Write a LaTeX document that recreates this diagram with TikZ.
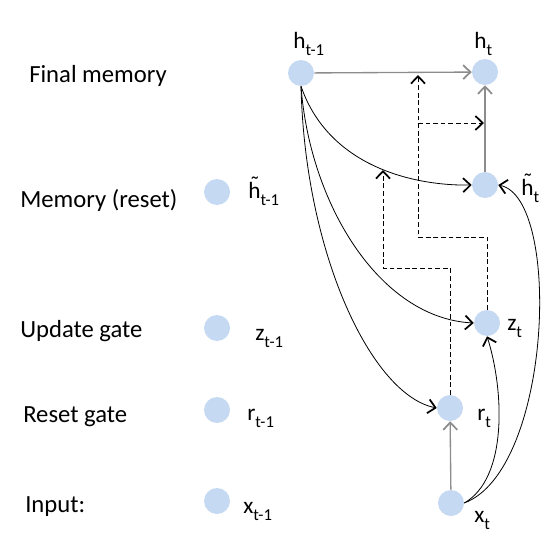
\documentclass[tikz,border=0pt]{standalone}
\usepackage{fontspec}
\setmainfont{Carlito}
\usetikzlibrary{arrows.meta}
\definecolor{nodeblue}{RGB}{197,217,243}
\definecolor{linegray}{RGB}{140,140,140}
\newcommand\mysub[1]{\raisebox{-0.3em}{\fontsize{12.5}{13}\selectfont #1}}
\newcommand\htil{\leavevmode\hbox{\ooalign{h\cr\hidewidth\kern0.05em\raisebox{0.24em}{\char"02DC}\hidewidth\cr}}}
\begin{document}
\begin{tikzpicture}[x=0.75pt,y=-0.75pt,
  unit/.style={circle,fill=nodeblue,minimum size=19.5pt,inner sep=0pt},
  lab/.style={font=\fontsize{18.5}{20}\selectfont,anchor=base west,inner sep=0pt},
  sym/.style={font=\fontsize{17.5}{19}\selectfont,anchor=base west,inner sep=0pt},
  arr/.style={-{Straight Barb[length=5.5pt,width=10.5pt,line width=1.3pt]}},
  straight/.style={arr,draw=linegray,line width=1pt},
  curved/.style={arr,draw=black,line width=0.6pt},
  dashline/.style={arr,draw=black,line width=0.7pt,dash pattern=on 3.5pt off 2.2pt}]
\useasboundingbox (0,0) rectangle (557,560);
% row labels
\node[lab] (l1) at (29,83) {Final memory};
\node[lab] (l2) at (20,207) {Memory (reset)};
\node[lab] (l3) at (20,337) {Update gate};
\node[lab] (l4) at (23,422) {Reset gate};
\node[lab] (l5) at (25,512) {Input:};
% left column
\node[unit] (hh0) at (217,192) {};
\node[unit] (z0) at (217,328) {};
\node[unit] (r0) at (217,410) {};
\node[unit] (x0) at (217,501) {};
\node[sym] (thh0) at (248,198) {\htil\mysub{t-1}};
\node[sym] (tz0) at (255,340) {z\mysub{t-1}};
\node[sym] (tr0) at (247,420) {r\mysub{t-1}};
\node[sym] (tx0) at (243,513) {x\mysub{t-1}};
% right part
\node[unit] (h0) at (301,73) {};
\node[unit] (h1) at (485,72) {};
\node[unit] (hh1) at (485,185) {};
\node[unit] (z1) at (487,323) {};
\node[unit] (r1) at (450,408) {};
\node[unit] (x1) at (451,503) {};
\node[sym] (th0) at (293,49) {h\mysub{t-1}};
\node[sym] (th1) at (474,49) {h\mysub{t}};
\node[sym] (thh1) at (521,195) {\htil\mysub{t}};
\node[sym] (tz1) at (507,330) {z\mysub{t}};
\node[sym] (tr1) at (477,420) {r\mysub{t}};
\node[sym] (tx1) at (474,522) {x\mysub{t}};
% straight connectors
\draw[straight] (h0) -- (h1);
\draw[straight] (hh1) -- (h1);
\draw[straight] (x1) -- (r1);
% curves from h_{t-1}
\draw[curved] (h0.south) .. controls (330,170) and (420,186) .. (hh1.west);
\draw[curved] (h0.south) .. controls (310,205) and (380,318) .. (z1.west);
\draw[curved] (h0.south) .. controls (305,255) and (372,395) .. (r1.west);
% curves from x_t
\draw[curved] (x1.east) .. controls (508,478) and (504,390) .. (z1.south);
\draw[curved] (x1.east) .. controls (552,470) and (562,198) .. (hh1.east);
% dashed gate connectors
\coordinate (dA) at (383,268);
\coordinate (dB) at (383,170);
\coordinate (dC) at (418,237);
\coordinate (dD) at (418,75);
\coordinate (dE) at (418,123);
\coordinate (dF) at (484,123);
\draw[dashline] (r1.north) |- (dA) -- (dB);
\draw[dashline] (z1.north) |- (dC) -- (dD);
\draw[dashline] (dE) -- (dF);
\end{tikzpicture}
\end{document}
